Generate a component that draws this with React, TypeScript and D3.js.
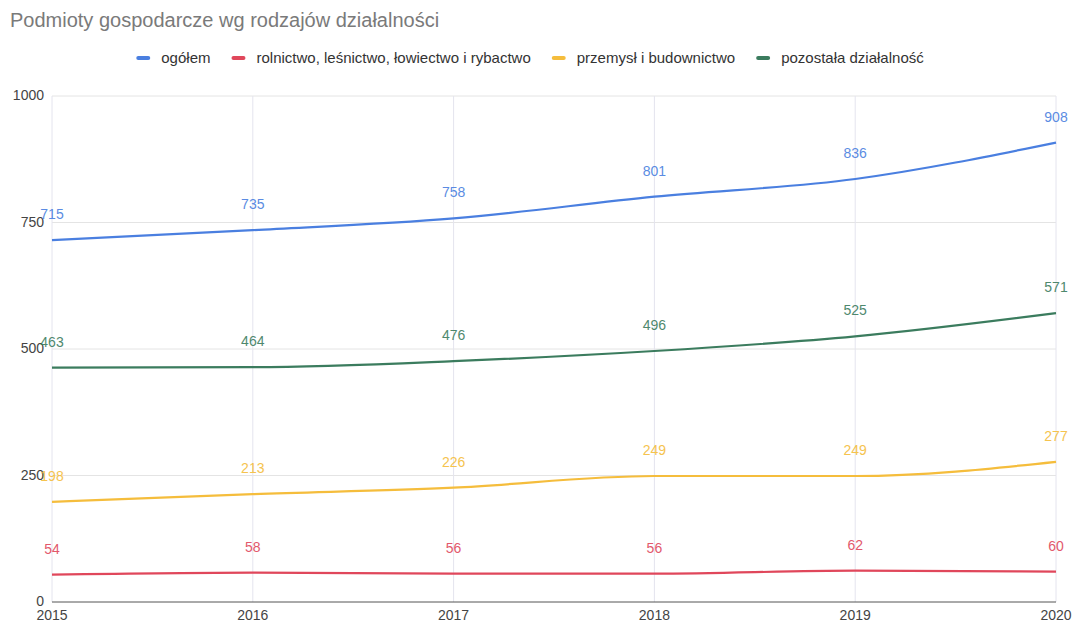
import React, { useEffect, useRef } from "react";
import * as d3 from "d3";

const title = "Podmioty gospodarcze wg rodzajów działalności";
const years = [2015, 2016, 2017, 2018, 2019, 2020];
const seriesNames = [
  "ogółem",
  "rolnictwo, leśnictwo, łowiectwo i rybactwo",
  "przemysł i budownictwo",
  "pozostała działalność",
];
const ogolem = [715, 735, 758, 801, 836, 908];
const rolnictwo = [54, 58, 56, 56, 62, 60];
const przemysl = [198, 213, 226, 249, 249, 277];
const pozostala = [463, 464, 476, 496, 525, 571];
const seriesColors = ["#4a7fe0", "#e0475b", "#f5bd3c", "#3b7c5e"];
const yTicks = [0, 250, 500, 750, 1000];

const W = 1076;
const H = 623;
const margin = { left: 52, right: 20, top: 96, bottom: 21 };
const FONT = "'Liberation Sans', Arial, sans-serif";

export default function App() {
  const ref = useRef<SVGSVGElement>(null);
  useEffect(() => {
    const svg = d3.select(ref.current);
    svg.selectAll("*").remove();
    const data = [ogolem, rolnictwo, przemysl, pozostala];

    const x = d3
      .scaleLinear()
      .domain([years[0], years[years.length - 1]])
      .range([margin.left, W - margin.right]);
    const y = d3
      .scaleLinear()
      .domain([0, 1000])
      .range([H - margin.bottom, margin.top]);

    svg
      .append("rect")
      .attr("width", W)
      .attr("height", H)
      .attr("fill", "#ffffff");

    // title
    svg
      .append("text")
      .attr("x", 10)
      .attr("y", 27)
      .attr("font-family", FONT)
      .attr("font-size", 20)
      .attr("fill", "#7a7a7a")
      .text(title);

    // grid
    const g = svg.append("g");
    g.selectAll("line.h")
      .data(yTicks.filter((t) => t > 0))
      .enter()
      .append("line")
      .attr("x1", margin.left)
      .attr("x2", W - margin.right)
      .attr("y1", (d) => y(d))
      .attr("y2", (d) => y(d))
      .attr("stroke", "#e4e4e4")
      .attr("stroke-width", 1);
    g.selectAll("line.v")
      .data(years)
      .enter()
      .append("line")
      .attr("x1", (d) => x(d))
      .attr("x2", (d) => x(d))
      .attr("y1", margin.top)
      .attr("y2", H - margin.bottom)
      .attr("stroke", "#e4e4ee")
      .attr("stroke-width", 1);
    g.append("line")
      .attr("x1", margin.left)
      .attr("x2", W - margin.right)
      .attr("y1", y(0))
      .attr("y2", y(0))
      .attr("stroke", "#555")
      .attr("stroke-width", 1);

    // y tick labels
    svg
      .append("g")
      .selectAll("text")
      .data(yTicks)
      .enter()
      .append("text")
      .attr("x", margin.left - 8)
      .attr("y", (d) => y(d))
      .attr("dy", "0.3em")
      .attr("text-anchor", "end")
      .attr("font-family", FONT)
      .attr("font-size", 14)
      .attr("fill", "#444")
      .text((d) => String(d));

    // x tick labels
    svg
      .append("g")
      .selectAll("text")
      .data(years)
      .enter()
      .append("text")
      .attr("x", (d) => x(d))
      .attr("y", H - 3)
      .attr("text-anchor", "middle")
      .attr("font-family", FONT)
      .attr("font-size", 14)
      .attr("fill", "#444")
      .text((d) => String(d));

    // lines
    const line = d3
      .line<number>()
      .x((_, i) => x(years[i]))
      .y((d) => y(d))
      .curve(d3.curveMonotoneX);
    data.forEach((vals, si) => {
      svg
        .append("path")
        .attr("d", line(vals) || "")
        .attr("fill", "none")
        .attr("stroke", seriesColors[si])
        .attr("stroke-width", 2.2);
    });

    // data labels
    data.forEach((vals, si) => {
      svg
        .append("g")
        .selectAll("text")
        .data(vals)
        .enter()
        .append("text")
        .attr("x", (_, i) => x(years[i]))
        .attr("y", (d) => y(d) - 21)
        .attr("text-anchor", "middle")
        .attr("font-family", FONT)
        .attr("font-size", 14)
        .attr("fill", seriesColors[si])
        .attr("opacity", 0.9)
        .text((d) => String(d));
    });

    // legend
    const leg = svg.append("g").attr("transform", "translate(0,58)");
    let cx = 0;
    const gap = 21;
    const items: { el: d3.Selection<SVGGElement, unknown, null, undefined>; off: number }[] = [];
    seriesNames.forEach((name, i) => {
      const it = leg.append("g");
      it.append("rect")
        .attr("x", 0)
        .attr("y", -2)
        .attr("width", 14)
        .attr("height", 4)
        .attr("rx", 2)
        .attr("fill", seriesColors[i]);
      const t = it
        .append("text")
        .attr("x", 25)
        .attr("y", 0)
        .attr("dy", "0.35em")
        .attr("font-family", FONT)
        .attr("font-size", 15)
        .attr("fill", "#333")
        .text(name);
      const w = 25 + (t.node() as SVGTextElement).getComputedTextLength();
      items.push({ el: it, off: cx });
      cx += w + gap;
    });
    const total = cx - gap;
    const start = 530 - total / 2;
    items.forEach(({ el, off }) => {
      el.attr("transform", `translate(${start + off},0)`);
    });
  }, []);

  return (
    <svg
      ref={ref}
      width={W}
      height={H}
      style={{ position: "absolute", left: 0, top: 0, display: "block" }}
    />
  );
}
